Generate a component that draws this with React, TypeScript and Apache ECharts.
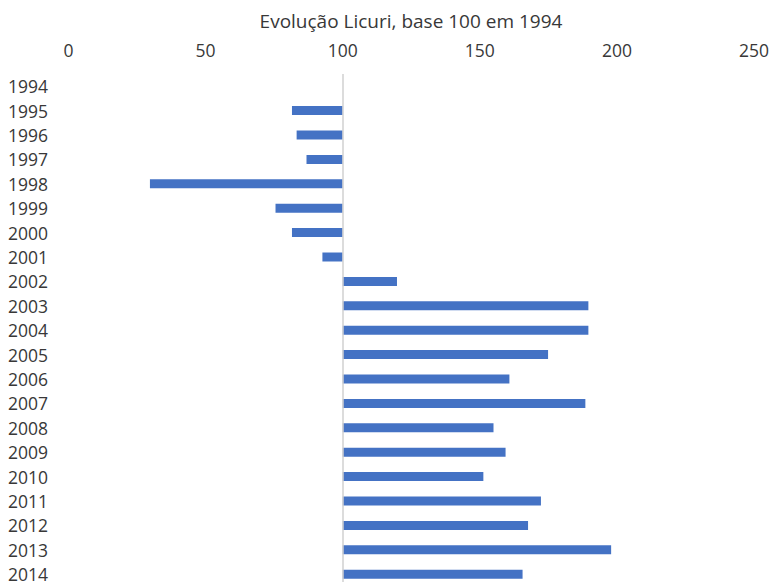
import React, { useEffect, useRef } from "react";
import * as echarts from "echarts";

const years = [
  "1994", "1995", "1996", "1997", "1998", "1999", "2000", "2001", "2002", "2003", "2004",
  "2005", "2006", "2007", "2008", "2009", "2010", "2011", "2012", "2013", "2014",
];
const values = [
  100, 81.5, 83.2, 86.8, 29.7, 75.5, 81.5, 92.6, 119.8, 189.6, 189.6,
  174.9, 160.8, 188.5, 155, 159.4, 151.3, 172.3, 167.6, 197.9, 165.6,
];
const baseValue = 100;
const xTicks = [0, 50, 100, 150, 200, 250];
const titleText = "Evolução Licuri, base 100 em 1994";

export default function App() {
  const ref = useRef<HTMLDivElement>(null);
  useEffect(() => {
    document.body.style.margin = "0";
    document.body.style.overflow = "hidden";
    const chart = echarts.init(ref.current!, null, { renderer: "svg" });
    const offsets = values.map((v) => Math.min(v, baseValue));
    const lengths = values.map((v) => Math.abs(v - baseValue));
    const font = "Open Sans";
    chart.setOption({
      animation: false,
      graphic: [
        {
          type: "text",
          x: 411,
          y: 21,
          style: {
            text: titleText,
            fill: "#383838",
            fontSize: 19,
            fontFamily: font,
            textAlign: "center",
            textVerticalAlign: "middle",
          },
        },
      ],
      grid: { left: 68.5, right: 17, top: 74, bottom: 13.6, containLabel: false },
      xAxis: {
        type: "value",
        position: "top",
        min: xTicks[0],
        max: xTicks[xTicks.length - 1],
        interval: 50,
        axisLine: { show: false },
        axisTick: { show: false },
        splitLine: { show: false },
        axisLabel: { color: "#383838", fontSize: 17.5, fontFamily: font, margin: 15 },
      },
      yAxis: {
        type: "category",
        inverse: true,
        data: years,
        axisLine: { show: false },
        axisTick: { show: false },
        axisLabel: {
          color: "#383838",
          fontSize: 17.5,
          fontFamily: font,
          align: "left",
          margin: 60.5,
        },
      },
      series: [
        {
          type: "bar",
          stack: "s",
          data: offsets,
          barWidth: 9,
          itemStyle: { color: "transparent" },
          silent: true,
          markLine: {
            silent: true,
            symbol: "none",
            label: { show: false },
            lineStyle: { color: "#d0d0d0", width: 1.5, type: "solid" },
            data: [{ xAxis: baseValue }],
          },
        },
        {
          type: "bar",
          stack: "s",
          data: lengths,
          barWidth: 9,
          itemStyle: { color: "#4472C4" },
        },
      ],
    });
    return () => chart.dispose();
  }, []);
  return <div ref={ref} style={{ width: 772, height: 600 }} />;
}
